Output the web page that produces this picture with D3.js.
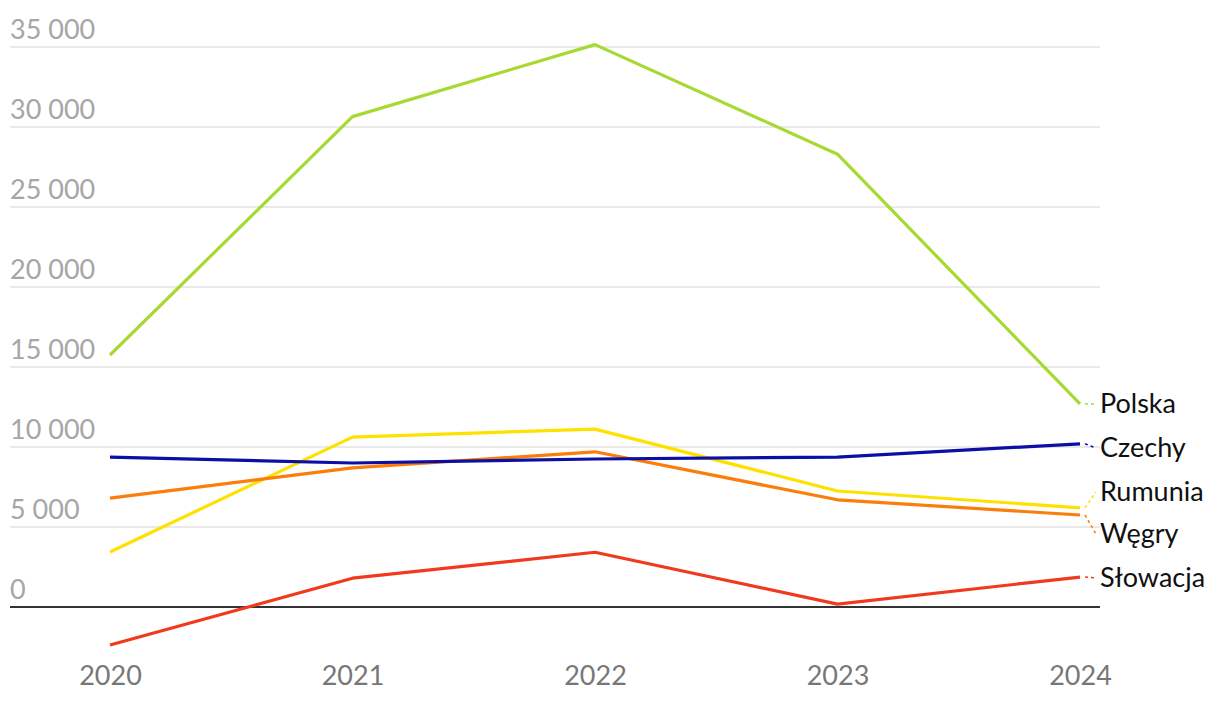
<!DOCTYPE html>
<html><head><meta charset="utf-8">
<script src="https://cdn.jsdelivr.net/npm/d3@7"></script>
<style>body{margin:0;background:#fff;}svg{display:block;font-family:Lato,"Noto Sans",sans-serif;}</style>
</head><body><svg id="c" width="1220" height="702"></svg>
<script>
const years = [2020, 2021, 2022, 2023, 2024];
const yTicks = [0, 5000, 10000, 15000, 20000, 25000, 30000, 35000];
const seriesNames = ["Polska", "Czechy", "Rumunia", "Węgry", "Słowacja"];
const seriesColors = ["#a8d932", "#0a10a6", "#ffe100", "#fb7d0a", "#f03a1e"];
const polska = [15750, 30650, 35150, 28300, 12700];
const czechy = [9370, 9000, 9250, 9370, 10200];
const rumunia = [3440, 10620, 11120, 7250, 6200];
const wegry = [6800, 8700, 9700, 6700, 5750];
const slowacja = [-2380, 1800, 3420, 180, 1870];
const labelYs = [404, 448, 492, 534, 578]; // label positions (pixels, after collision avoidance)

const values = [polska, czechy, rumunia, wegry, slowacja];
const svg = d3.select("#c");
const x = d3.scalePoint().domain(years).range([110, 1080]);
const y = d3.scaleLinear().domain([0, 35000]).range([607, 47]);

const fmt = d => d3.format(",")(d).replace(/,/g, " ");
const gy = svg.append("g");
gy.selectAll("line").data(yTicks).join("line")
  .attr("x1", 10).attr("x2", 1100)
  .attr("y1", d => y(d)).attr("y2", d => y(d))
  .attr("stroke", d => d === 0 ? "#333" : "#e2e2e2")
  .attr("stroke-width", d => d === 0 ? 2 : 1.5);
gy.selectAll("text").data(yTicks).join("text")
  .attr("x", 10).attr("y", d => y(d) - 8)
  .attr("fill", "#a6a6a6").attr("font-size", 27)
  .text(fmt);

const xAxis = d3.axisBottom(x).tickSize(0).tickPadding(0);
const gx = svg.append("g").attr("transform", "translate(0,685)").call(xAxis);
gx.select(".domain").remove();
gx.selectAll("text").attr("fill", "#777").attr("font-size", 27).attr("font-family", "Lato").attr("dy", 0);

const order = [0, 2, 3, 1, 4];
const line = d3.line().x((d, i) => x(years[i])).y(d => y(d));
order.forEach(k => {
  svg.append("path").datum(values[k]).attr("d", line)
    .attr("fill", "none").attr("stroke", seriesColors[k]).attr("stroke-width", 3.2)
    .attr("stroke-linejoin", "round");
});

seriesNames.forEach((name, k) => {
  const ex = x(2024), ey = y(values[k][4]);
  svg.append("line").attr("x1", ex + 5).attr("y1", ey).attr("x2", 1096).attr("y2", labelYs[k])
    .attr("stroke", seriesColors[k]).attr("stroke-width", 1.5).attr("stroke-dasharray", "3,3");
  svg.append("text").attr("x", 1100).attr("y", labelYs[k]).attr("dy", "0.35em")
    .attr("font-size", 27).attr("fill", "#111").text(name);
});
</script></body></html>
